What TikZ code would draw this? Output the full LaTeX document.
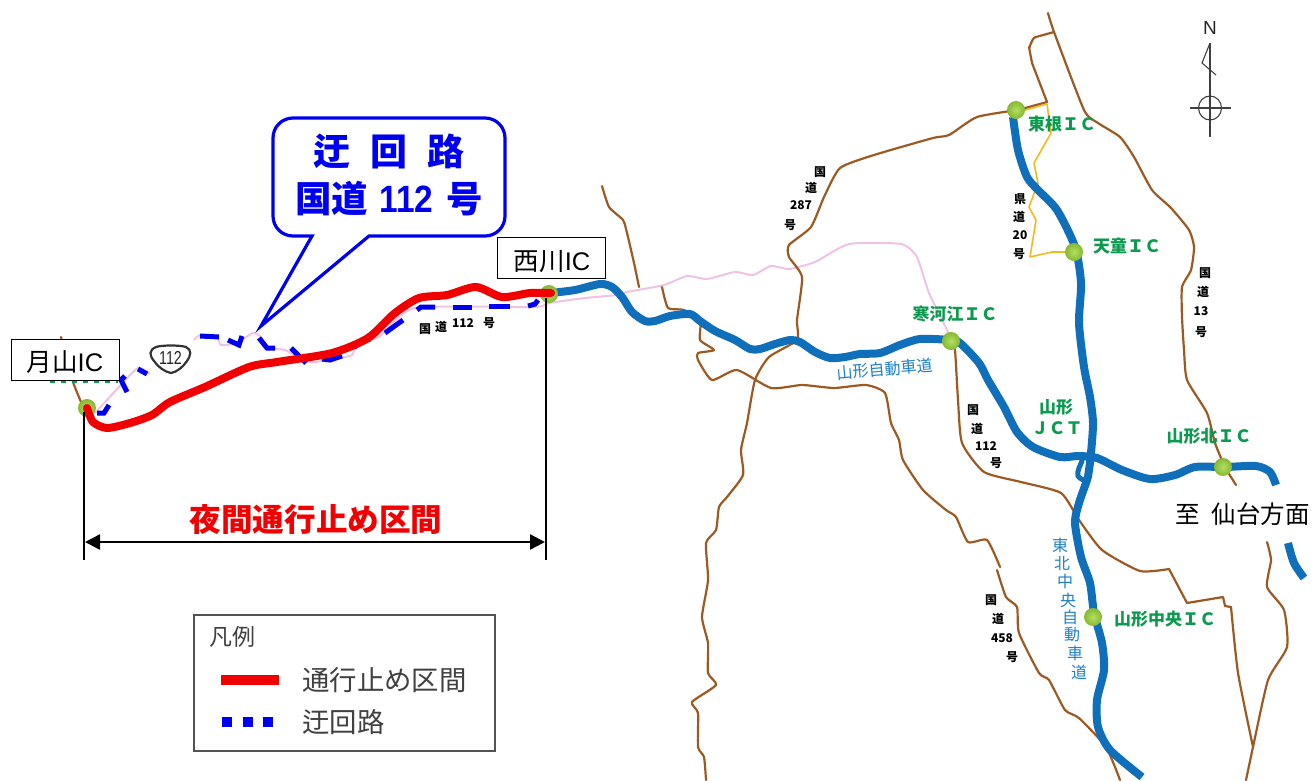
\documentclass[tikz,border=0pt]{standalone}
\usepackage{fontspec}
\usetikzlibrary{arrows.meta}
\setmainfont{Noto Sans CJK JP}
\newfontfamily\lat{Liberation Sans}
\definecolor{road}{HTML}{9C5A22}
\definecolor{pinkr}{HTML}{EFC3E6}
\definecolor{expw}{HTML}{0F6FBA}
\definecolor{yel}{HTML}{F5B81F}
\definecolor{dashb}{HTML}{0000F0}
\definecolor{redr}{HTML}{F00000}
\definecolor{grn}{HTML}{0B9A4E}
\definecolor{lblue}{HTML}{1F80C8}
\definecolor{ballin}{HTML}{B4DE62}
\definecolor{ballout}{HTML}{86B832}
\definecolor{lg}{HTML}{404040}
\newcommand{\fsz}[1]{\fontsize{#1}{#1}\selectfont}
\tikzset{
 x=1pt,y=-1pt,
 rd/.style={draw=road,line width=2.2pt,line join=round,line cap=round},
 pk/.style={draw=pinkr,line width=2pt,line join=round},
 ex/.style={draw=expw,line width=8pt,line join=round},
 yl/.style={draw=yel,line width=1.6pt,line join=round},
 dsh/.style={draw=dashb,line width=5pt,line join=miter},
 rr/.style={draw=redr,line width=8pt,line join=round,line cap=round},
 blk/.style={draw=black,line width=2pt},
 gl/.style={text=grn,font=\fsz{17}\bfseries,inner sep=0pt},
 sm/.style={text=black,font=\fsz{12}\bfseries,inner sep=0pt},
 bl/.style={text=lblue,font=\fsz{16},inner sep=0pt},
 box/.style={draw=black,line width=1pt,fill=white,inner sep=0pt},
}
\newcommand{\ic}[2]{\shade[inner color=ballin,outer color=ballout] (#1,#2) circle [radius=9pt];}
\begin{document}
\begin{tikzpicture}
\useasboundingbox (0,0) rectangle (1313,780);
\clip (0,0) rectangle (1313,780);
% pink road
\draw[pk] plot[smooth,tension=.45] coordinates {(95,413)(119,387)(138,368)(150,374)};
\draw[pk] plot[smooth,tension=.35] coordinates {(194,340)(200,335)(217,337)(221,345)(237,343)(253,333)(261,337)(269,348)(285,350)(308,362)(328,360)(352,355)(356,343)(379,337)(415,308)(534,307)(549,303)(585,298)(617,295)(627,292)(664,285)(687,276)(707,279)(735,272)(753,275)(771,266)(789,269)(815,262)(849,244)(901,244)(917,257)(929,293)(952,340)};
% brown roads
\draw[rd] plot[smooth,tension=.35] coordinates {(1048,13)(1054,32)(1084,110)(1098,123)(1120,137)(1134,157)(1152,190)(1171,208)(1189,230)(1194,247)(1191,270)(1182,287)(1182,317)(1184,350)(1187,380)(1207,413)(1215,443)(1225,467)(1236,485)};
\draw[rd] plot[smooth,tension=.35] coordinates {(1267,542)(1271,560)(1267,587)(1284,610)(1287,647)(1268,680)(1253,747)(1246,780)};
\draw[rd] (1054,32) -- (1036,37) to[out=180,in=-90] (1029,47) -- (1032,63) -- (1047,102) -- (1018,110);
\draw[rd] plot[smooth,tension=.35] coordinates {(1018,110)(977,117)(949,135)(933,138)(874,155)(840,168)(824,197)(811,227)(789,245)(789,257)(802,277)(797,320)(797,340)(769,357)(755,380)(747,423)(741,450)(743,475)(727,497)(719,507)(716,530)(706,543)(708,580)(702,617)(708,643)(708,673)(716,685)(692,702)(698,713)(698,747)(704,757)(706,780)};
\draw[rd] plot[smooth,tension=.35] coordinates {(662,287)(668,308)(684,310)(700,323)(700,340)(714,350)(698,353)(698,360)(712,380)(737,370)(771,388)(802,385)(834,388)(866,385)(885,393)(891,423)(899,440)(903,460)(923,490)(946,510)(956,517)(968,542)(987,540)(1000,567)};
\draw[rd] plot[smooth,tension=.35] coordinates {(997,570)(1006,597)(1017,607)(1019,633)(1039,673)(1049,680)(1065,710)(1079,718)(1106,747)(1120,780)};
\draw[rd] plot[smooth,tension=.35] coordinates {(952,345)(955,350)(958,400)(962,443)(984,472)(1021,482)(1061,493)(1079,520)(1102,550)(1140,571)(1169,569)};
\draw[rd] (1169,569) -- (1187,603) -- (1223,597) -- (1225,606) -- (1231,607);
\draw[rd] plot[smooth,tension=.35] coordinates {(1231,607)(1238,673)(1253,747)};
\draw[rd] plot[smooth,tension=.35] coordinates {(602,186)(609,207)(623,220)(627,233)(634,263)(639,287)};
\draw[rd] plot[smooth,tension=.35] coordinates {(61,337)(64,350)(73,382)(81,402)};
% yellow
\draw[yl] (1018,112) -- (1047,104) -- (1051,133) -- (1034,163) -- (1038,183) -- (1029,207) -- (1036,220) -- (1030,257) -- (1052,252) -- (1075,252);
% expressways
\draw[ex] plot[smooth,tension=.45] coordinates {(551,293)(575,290)(600,284)(612,287)(622,297)(632,312)(645,321)(655,321)(670,316)(690,314)(700,321)(715,331)(735,340)(750,349)(760,349)(775,344)(790,340)(800,342)(815,352)(830,358)(845,357)(860,354)(880,353)(900,345)(920,339)(950,340)(960,343)(979,363)(988,380)(1004,407)(1017,432)(1033,447)(1060,457)(1078,456)(1097,458)(1122,470)(1150,479)(1175,475)(1195,467)(1225,467)(1256,466)(1270,472)(1276,485)};
\draw[ex] plot[smooth,tension=.5] coordinates {(1288,543)(1294,563)(1304,578)};
\draw[ex] plot[smooth,tension=.45] coordinates {(1013,117)(1018,150)(1027,177)(1038,190)(1057,210)(1075,247)(1081,283)(1079,323)(1084,367)(1090,397)(1093,423)(1091,453)(1089,470)(1087,480)(1079,503)(1075,523)(1081,557)(1090,583)(1094,613)(1102,643)(1104,670)(1097,700)(1098,727)(1110,750)(1142,777)};
\draw[draw=expw,line width=5pt,line cap=round] plot[smooth,tension=.6] coordinates {(1078,455)(1082,460)(1079,468)(1078,476)(1085,481)};
% dashes
\draw[dsh] (97,413) -- (104,413) -- (109,405);
\draw[dsh] (127,392) -- (121,380) -- (125,376);
\draw[dsh] (138,369) -- (147,374);
\draw[dsh] (200,336) -- (219,337);
\draw[dsh] (228,340) -- (239,345) -- (242,336);
\draw[dsh] (259,338) -- (267,348) -- (275,348);
\draw[dsh] (291,348) -- (306,363);
\draw[dsh] (322,359) -- (330,360) -- (342,356);
\draw[dsh] (354,348) -- (358,343) -- (370,339);
\draw[dsh] (385,333) -- (403,320);
\draw[dsh] (417,310) -- (421,307) -- (435,307);
\draw[dsh] (453,307) -- (472,307);
\draw[dsh] (489,306) -- (510,306);
\draw[dsh] (528,306) -- (535,304) -- (538,300);
% IC balls under red
\ic{87}{408}\ic{549}{294}\ic{1016}{110}\ic{1074}{252}\ic{951}{341}\ic{1223}{467}\ic{1093}{617}
% red
\draw[rr] plot[smooth,tension=.45] coordinates {(87,408)(93,422)(107,428)(130,423)(152,415)(170,402)(205,387)(249,367)(277,362)(332,353)(368,338)(395,313)(419,298)(447,295)(476,287)(502,297)(530,293)(551,293)};
% brackets
\coordinate (bl1) at (84,412); \coordinate (bl2) at (84,560);
\coordinate (br1) at (546,298); \coordinate (br2) at (546,560);
\coordinate (al) at (85,542); \coordinate (ar) at (545,542);
\draw[blk] (bl1) -- (bl2);
\draw[blk] (br1) -- (br2);
\draw[draw=black,line width=2.5pt,{Triangle[length=15pt,width=15pt]}-{Triangle[length=15pt,width=15pt]}] (al) -- (ar);
\node[text=redr,font=\fsz{31.6}\bfseries,inner sep=0pt] (sect) at (316,519) {夜間通行止め区間};
% IC boxes
\coordinate (gr1) at (50,382); \coordinate (gr2) at (118,382);
\draw[draw=grn,line width=1.5pt,dash pattern=on 5pt off 6pt] (gr1) -- (gr2);
\node[box,minimum width=108pt,minimum height=41pt] (gs) at (65,359.5) {};
\node[font=\fsz{25.5},inner sep=0pt] (gst) at (65,362) {月山{\lat IC}};
\node[box,minimum width=108pt,minimum height=41pt] (ns) at (551,258) {};
\node[font=\fsz{25.5},inner sep=0pt] (nst) at (552,262) {西川{\lat IC}};
% callout
\draw[draw=dashb,line width=3.2pt,fill=white,line join=miter] (293,118) -- (485,118) to[out=0,in=90] (505,138) -- (505,216) to[out=-90,in=0] (485,236) -- (369,236) -- (261,326) -- (312,236) -- (293,236) to[out=180,in=-90] (273,216) -- (273,138) to[out=90,in=180] (293,118) -- cycle;
\node[text=dashb,font=\fsz{37}\bfseries,inner sep=0pt] (c1) at (389,151) {迂\hspace{20pt}回\hspace{20pt}路};
\node[text=dashb,font=\fsz{36.5}\bfseries,inner sep=0pt] (c2) at (389,198.5) {国道\hspace{11pt}{\lat\bfseries\fsz{38}\scalebox{.88}[1]{112}}\hspace{13pt}号};
% shield
\draw[draw=black!80,line width=2.2pt,fill=white] (156,347) .. controls (162,345) and (180,345) .. (186,347) .. controls (192,350) and (191,355) .. (187,361) .. controls (183,367) and (177,372) .. (171,373) .. controls (165,372) and (158,367) .. (154,361) .. controls (149,355) and (149,350) .. (156,347) -- cycle;
\node[text=black!85,font=\lat\fsz{15},inner sep=0pt,yscale=1.25,xscale=.95] (sh) at (170.5,358) {112};
% green labels
\node[gl] (l1) at (1062,124) {東根ＩＣ};
\node[gl] (l2) at (1127,246) {天童ＩＣ};
\node[gl] (l3) at (955,314) {寒河江ＩＣ};
\node[gl] (l4) at (1056,407) {山形};
\node[gl] (l5) at (1057,428) {ＪＣＴ};
\node[gl] (l6) at (1209,436) {山形北ＩＣ};
\node[gl] (l7) at (1165,619) {山形中央ＩＣ};
% small black labels
\foreach \tx/\p in {国/{820,172},道/{811,188},287/{801,205},号/{790,225},
 県/{1020,199},道/{1019,217},20/{1020,235},号/{1019,254},
 国/{1205,273},道/{1203,292},13/{1201,311},号/{1201,332},
 国/{973,410},道/{977,429},112/{986,446},号/{996,463},
 国/{991,600},道/{998,619},458/{1002,638},号/{1012,657},
 国/{425,329},道/{441,327},112/{463,323},号/{489,323}}
  \node[sm] at (\p) {\tx};
% blue labels
\node[bl,rotate=5] (b0) at (885,369) {山形自動車道};
\foreach \tx/\p in {東/{1060,545},北/{1062,563},中/{1065,581},央/{1068,600},自/{1070,617},動/{1072,635},車/{1075,653},道/{1079,672}}
  \node[bl] at (\p) {\tx};
% destination
\node[text=black,font=\fsz{24.5},inner sep=0pt,anchor=west] (to) at (1175,514) {至\hspace{12pt}仙台方面};
% north
\draw[draw=lg,line width=1.1pt] (1210,43) -- (1210,137);
\draw[draw=lg,line width=1.1pt] (1210,43) -- (1202,63) -- (1216,75);
\draw[draw=lg,line width=1.1pt] (1210,108) ellipse [x radius=11.5pt,y radius=12pt];
\draw[draw=lg,line width=1.1pt] (1190,108) -- (1231,108);
\node[text=black!85,font=\lat\fsz{19},inner sep=0pt] (n) at (1210,28) {N};
% legend
\node[draw=lg!90,line width=1.4pt,fill=white,minimum width=301pt,minimum height=136pt,inner sep=0pt] (lg) at (344.5,683) {};
\node[text=lg,font=\fsz{23},inner sep=0pt,anchor=west] (lt) at (209,637) {凡例};
\coordinate (k1) at (221,680); \coordinate (k2) at (279,680);
\draw[draw=redr,line width=10pt] (k1) -- (k2);
\coordinate (k3) at (222,722); \coordinate (k4) at (273,722);
\draw[draw=dashb,line width=10pt,dash pattern=on 10pt off 10.5pt] (k3) -- (k4);
\node[text=lg,font=\fsz{27.4},inner sep=0pt,anchor=west] (lr) at (302,680) {通行止め区間};
\node[text=lg,font=\fsz{27.4},inner sep=0pt,anchor=west] (lb) at (302,722) {迂回路};
\end{tikzpicture}
\end{document}
